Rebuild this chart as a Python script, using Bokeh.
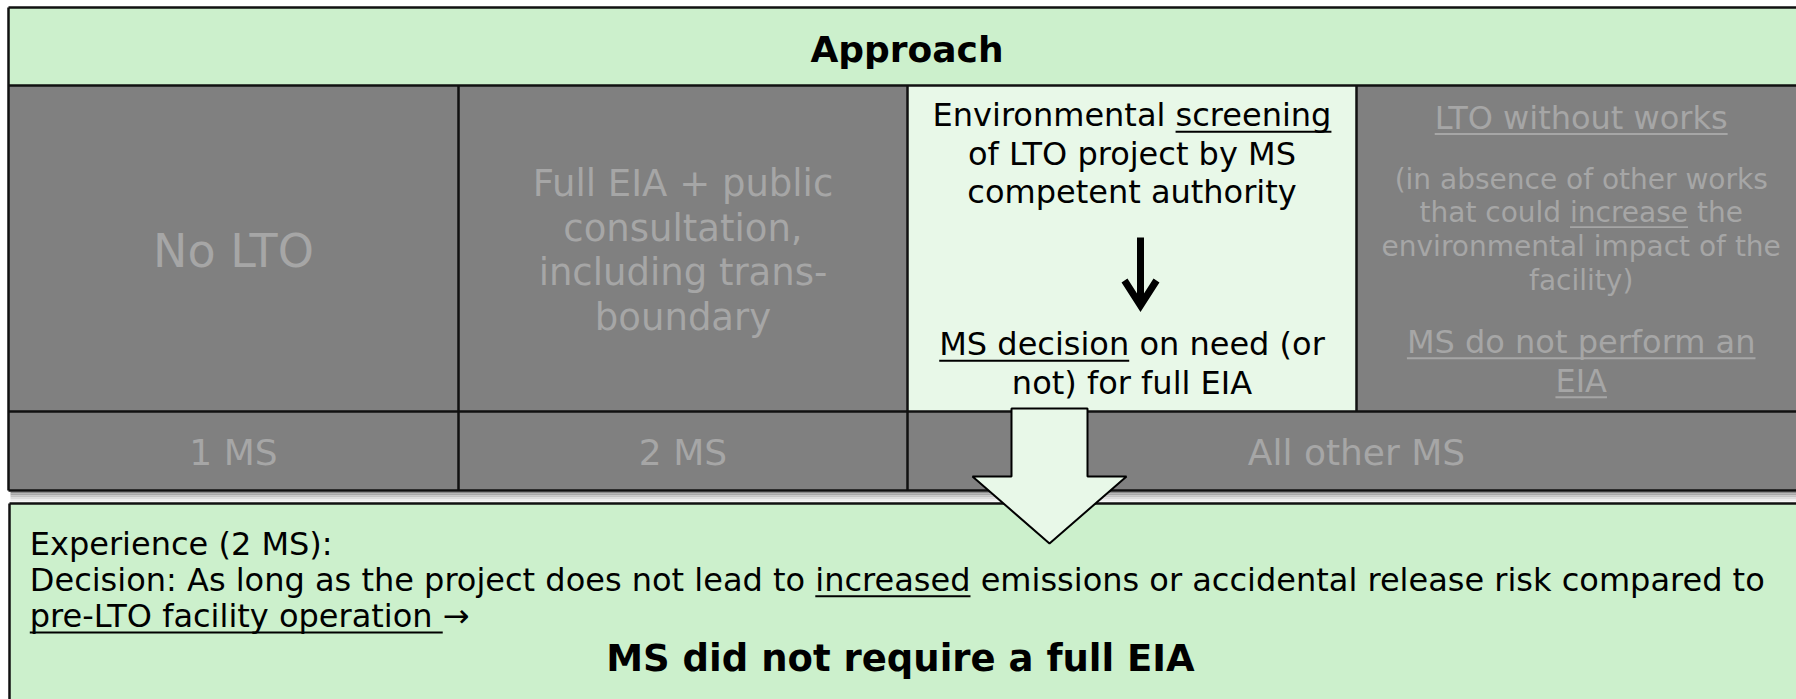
import os
from bokeh.plotting import figure
from bokeh.models import Range1d
from bokeh.core.properties import value
from bokeh.embed import file_html
from bokeh.resources import INLINE

# ---------------- content ----------------
header_title = "Approach"
no_lto_lines = ["No LTO"]
full_eia_lines = ["Full EIA + public", "consultation,", "including trans-", "boundary"]
screening_lines = [
    [("Environmental ", False), ("screening", True)],
    [("of LTO project by MS", False)],
    [("competent authority", False)],
]
decision_lines = [
    [("MS decision", True), (" on need (or", False)],
    [("not) for full EIA", False)],
]
lto_title_lines = [[("LTO without works", True)]]
lto_note_lines = [
    [("(in absence of other works", False)],
    [("that could ", False), ("increase", True), (" the", False)],
    [("environmental impact of the", False)],
    [("facility)", False)],
]
lto_result_lines = [[("MS do not perform an", True)], [("EIA", True)]]
ms_labels = ["1 MS", "2 MS", "All other MS"]
experience_lines = [
    [("Experience (2 MS):", False)],
    [("Decision: As long as the project does not lead to ", False), ("increased", True),
     (" emissions or accidental release risk compared to", False)],
    [("pre-LTO facility operation ", True), ("\u2192", False)],
]
conclusion = "MS did not require a full EIA"

# ---------------- style ----------------
GREEN = "#CCF0CC"
LIGHT = "#E8F8E8"
GRAY = "#808080"
GTEXT = "#A6A6A6"
FONT = "DejaVu Sans"
BASE_SHIFT = 0.37  # rendered baseline sits this fraction of font size below anchor

# ---------------- text measuring ----------------
try:
    from PIL import ImageFont
except Exception:
    ImageFont = None

def _find(fname):
    for root in ["/usr/share/fonts", "/usr/local/share/fonts", os.path.expanduser("~/.fonts")]:
        for dp, dn, fn in os.walk(root):
            if fname in fn:
                return os.path.join(dp, fname)
    return None

_fonts = {}
def measure(text, size, bold=False):
    if bold not in _fonts:
        f = None
        if ImageFont is not None:
            path = _find("DejaVuSans-Bold.ttf" if bold else "DejaVuSans.ttf")
            try:
                f = ImageFont.truetype(path or ("DejaVuSans-Bold.ttf" if bold else "DejaVuSans.ttf"), 100)
            except Exception:
                f = None
        _fonts[bold] = f
    f = _fonts[bold]
    if f is None:
        return len(text) * size * 0.6
    return f.getlength(text) * size / 100.0

# ---------------- figure ----------------
W, H = 1796, 699
p = figure(width=W, height=H, output_backend="svg", toolbar_location=None,
           x_range=Range1d(0, W), y_range=Range1d(H, 0), min_border=0)
p.axis.visible = False
p.grid.visible = False
p.outline_line_color = None
p.background_fill_color = "white"
p.border_fill_color = "white"

XE = [8, 458, 907, 1356, 1805]
Y_TOP, Y_HEAD, Y_ROW, Y_MS = 7, 85, 411, 490
Y_BOX, Y_BOT = 503, 720

# cells
p.quad(left=[XE[0]], right=[XE[4]], top=[Y_TOP], bottom=[Y_HEAD], fill_color=GREEN, line_color=None)
p.quad(left=XE[:4], right=XE[1:], top=[Y_HEAD] * 4, bottom=[Y_ROW] * 4,
       fill_color=[GRAY, GRAY, LIGHT, GRAY], line_color=None)
p.quad(left=[XE[0]], right=[XE[4]], top=[Y_ROW], bottom=[Y_MS], fill_color=GRAY, line_color=None)

# shadow under table
shade = ["#8c8c8c", "#a8a8a8", "#c4c4c4", "#dcdcdc", "#eeeeee", "#f8f8f8"]
for i, c in enumerate(shade):
    p.quad(left=[XE[0] + 2], right=[XE[4]], top=[Y_MS + 1 + 2 * i], bottom=[Y_MS + 3 + 2 * i],
           fill_color=c, line_color=None)

# bottom box
p.quad(left=[9], right=[XE[4]], top=[Y_BOX], bottom=[Y_BOT], fill_color=GREEN, line_color=None)

# grid lines
hx = [[XE[0], XE[4]]] * 4
hy = [[Y_TOP, Y_TOP], [Y_HEAD, Y_HEAD], [Y_ROW, Y_ROW], [Y_MS, Y_MS]]
vx = [[XE[0], XE[0]], [XE[1], XE[1]], [XE[2], XE[2]], [XE[3], XE[3]]]
vy = [[Y_TOP, Y_MS], [Y_HEAD, Y_MS], [Y_HEAD, Y_MS], [Y_HEAD, Y_ROW]]
p.multi_line(xs=hx + vx + [[9, XE[4]], [9, 9]], ys=hy + vy + [[Y_BOX, Y_BOX], [Y_BOX, Y_BOT]],
             line_color="#111111", line_width=2.5)

# ---------------- text helpers ----------------
def draw_line(segments, x, y, size, color, bold=False, align="center", ul_w=2.0):
    full = "".join(s for s, _ in segments)
    total = measure(full, size, bold)
    left = x - total / 2 if align == "center" else x
    p.text(x=[x], y=[y - BASE_SHIFT * size], text=[full], text_font=value(FONT),
           text_font_size=value(f"{size}px"),
           text_font_style="bold" if bold else "normal", text_color=color,
           text_align=align, text_baseline="alphabetic")
    prefix = ""
    for seg, ul in segments:
        x0 = left + measure(prefix, size, bold)
        prefix += seg
        x1 = left + measure(prefix, size, bold)
        if ul:
            uy = y + size * 0.14
            p.segment(x0=[x0], y0=[uy], x1=[x1], y1=[uy], line_color=color, line_width=ul_w)

# header
draw_line([(header_title, False)], (XE[0] + XE[4]) / 2, 62.5, 36, "black", bold=True)

# column 1
cx = [(XE[i] + XE[i + 1]) / 2 for i in range(4)]
draw_line([(no_lto_lines[0], False)], cx[0], 268, 46, GTEXT)

# column 2
for i, t in enumerate(full_eia_lines):
    draw_line([(t, False)], cx[1], 196.7 + 44.7 * i, 37, GTEXT)

# column 3
for i, segs in enumerate(screening_lines):
    draw_line(segs, cx[2], 126.7 + 38.2 * i, 32, "black")
for i, segs in enumerate(decision_lines):
    draw_line(segs, cx[2], 355.7 + 38.5 * i, 32, "black")
# small down arrow
ax = 1140
p.segment(x0=[ax], y0=[237], x1=[ax], y1=[303], line_color="black", line_width=7)
p.multi_line(xs=[[ax - 16, ax, ax + 16]], ys=[[280, 305, 280]], line_color="black",
             line_width=7, line_join="miter")

# column 4
cx4 = 1580.7
draw_line(lto_title_lines[0], cx4, 129, 32, GTEXT)
for i, segs in enumerate(lto_note_lines):
    draw_line(segs, cx4, 189 + 33.7 * i, 28, GTEXT, ul_w=1.6)
for i, segs in enumerate(lto_result_lines):
    draw_line(segs, cx4, 353.3 + 39 * i, 32, GTEXT)

# MS row
ms_x = [cx[0], cx[1], (XE[2] + XE[4]) / 2]
for lbl, x in zip(ms_labels, ms_x):
    draw_line([(lbl, False)], x, 465, 36, GTEXT)

# big arrow
bx = 1049
p.patch(x=[bx - 38, bx + 38, bx + 38, bx + 77, bx, bx - 77, bx - 38],
        y=[408, 408, 476, 476, 543, 476, 476],
        fill_color=LIGHT, line_color="black", line_width=2)

# bottom box text
for i, segs in enumerate(experience_lines):
    draw_line(segs, 29.3, 555 + 36.2 * i, 32, "black", align="left")
draw_line([(conclusion, False)], 900, 672, 37, "black", bold=True)

open("out.html", "w").write(file_html(p, INLINE))
